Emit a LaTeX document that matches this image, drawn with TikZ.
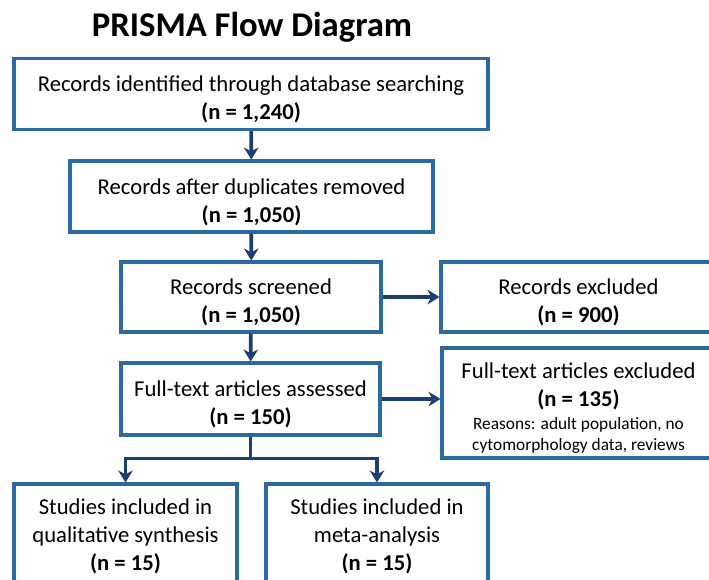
\documentclass[tikz,border=0pt]{standalone}
\usepackage{fontspec}
\setmainfont{Carlito}
\usepackage{tikz}
\usetikzlibrary{arrows.meta}
\definecolor{boxline}{RGB}{46,104,162}
\definecolor{flowline}{RGB}{28,62,112}
\tikzset{
  % node options
  stage/.style={rectangle,draw=boxline,line width=2.3pt,fill=white,align=center,
    font=\fontsize{17}{21}\selectfont,inner sep=0pt},
  heading/.style={font=\fontsize{26}{30}\selectfont\bfseries,anchor=base},
  % path options
  link/.style={draw=flowline,line width=2.8pt},
  step arrow/.style={link,-{Stealth[length=9pt,width=11pt]}},
}
\newcommand{\ncount}[1]{\textbf{(n = #1)}}
\newcommand{\reason}[1]{{\fontsize{13}{16}\selectfont #1}}
\newcommand{\dropline}{\rule{0pt}{20pt}}

\begin{document}
\begin{tikzpicture}[x=0.75pt,y=-0.75pt]
    \clip (0,0) rectangle (709,580);
    \fill[white] (0,0) rectangle (709,580);
    \node[heading] (title) at (252,37) {PRISMA Flow Diagram};
    \node[stage,minimum width=474*0.75pt,minimum height=71*0.75pt] (ident) at (251,94)
      {\dropline Records identified through database searching\\ \ncount{1,240}};
    \node[stage,minimum width=363*0.75pt,minimum height=71*0.75pt] (dedup) at (251.5,196.5)
      {\dropline Records after duplicates removed\\ \ncount{1,050}};
    \node[stage,minimum width=260*0.75pt,minimum height=70*0.75pt] (screen) at (251,297)
      {\dropline Records screened\\ \ncount{1,050}};
    \node[stage,minimum width=275*0.75pt,minimum height=70*0.75pt] (recexcl) at (578.5,297)
      {\dropline Records excluded\\ \ncount{900}};
    \node[stage,minimum width=259*0.75pt,minimum height=72*0.75pt] (fulltext) at (250.5,399)
      {\dropline Full-text articles assessed\\ \ncount{150}};
    \node[stage,minimum width=273*0.75pt,minimum height=110*0.75pt] (ftexcl) at (578.5,403)
      {\dropline Full-text articles excluded\\ \ncount{135}\\[-4pt]
       \reason{Reasons: adult population, no}\\[-5pt] \reason{cytomorphology data, reviews}};
    \node[stage,minimum width=223*0.75pt,minimum height=104*0.75pt] (qual) at (125.5,536)
      {Studies included in\\ qualitative synthesis\\ \ncount{15}};
    \node[stage,minimum width=222*0.75pt,minimum height=104*0.75pt] (meta) at (377,536)
      {Studies included in\\ meta-analysis\\ \ncount{15}};
    \draw[step arrow] (ident) -- (dedup);
    \draw[step arrow] (dedup) -- (screen);
    \draw[step arrow] (screen) -- (fulltext);
    \draw[step arrow] (screen) -- (recexcl);
    \draw[step arrow] (fulltext.east) -- (fulltext.east -| ftexcl.west);
    \path (fulltext.south) ++(0,22) coordinate (fork);
    \draw[link] (fulltext.south) -- (fork);
    \draw[step arrow] (fork) -| (qual.north);
    \draw[step arrow] (fork) -| (meta.north);
  \end{tikzpicture}
\end{document}
